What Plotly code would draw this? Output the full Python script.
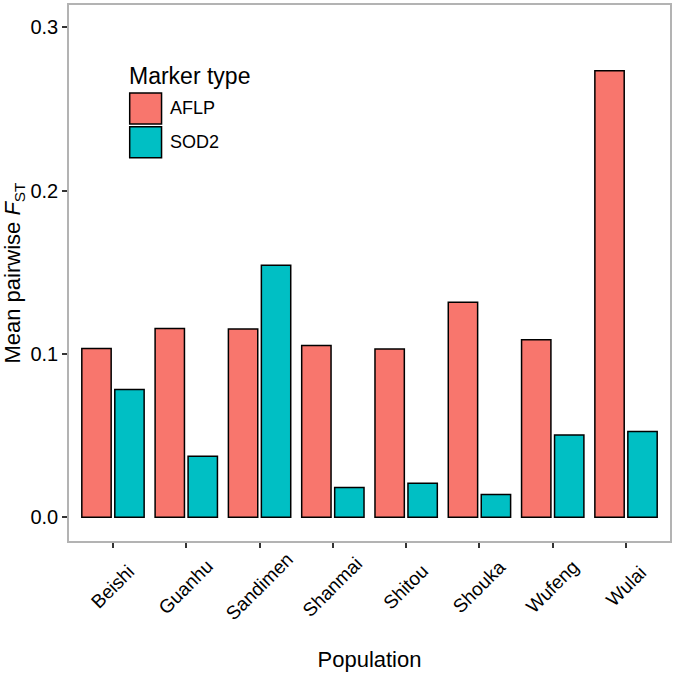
import plotly.graph_objects as go

populations = ["Beishi", "Guanhu", "Sandimen", "Shanmai", "Shitou", "Shouka", "Wufeng", "Wulai"]
aflp = [0.1034, 0.1156, 0.1152, 0.1051, 0.1031, 0.1317, 0.1087, 0.2734]
sod2 = [0.0782, 0.0374, 0.1543, 0.0183, 0.0209, 0.0140, 0.0504, 0.0526]
marker_types = ["AFLP", "SOD2"]
colors = {"AFLP": "#F8766D", "SOD2": "#00BFC4"}

FONT = "Liberation Sans, Arial, sans-serif"

fig = go.Figure()
for name, vals in zip(marker_types, [aflp, sod2]):
    fig.add_trace(go.Bar(
        x=populations, y=vals, name=name,
        marker=dict(color=colors[name], line=dict(color="black", width=1.5)),
        showlegend=False,
    ))

# x tick labels: rotated 45 deg and centred on the tick, like ggplot's angle=45
for p in populations:
    fig.add_annotation(text=p, x=p, xref="x", y=-0.0855, yref="paper", showarrow=False,
                       textangle=-45, xanchor="center", yanchor="middle",
                       font=dict(family=FONT, size=19, color="black"))

# legend drawn by hand so the keys are as big as ggplot's
key_x0, key_x1 = 0.101, 0.154
key_tops = [0.836, 0.773]
key_h = 0.058
for name, top in zip(marker_types, key_tops):
    fig.add_shape(type="rect", xref="paper", yref="paper",
                  x0=key_x0, x1=key_x1, y0=top - key_h, y1=top,
                  fillcolor=colors[name], line=dict(color="black", width=1.5))
    fig.add_annotation(text=name, xref="paper", yref="paper", showarrow=False,
                       x=key_x1 + 0.01, y=top - key_h / 2, xanchor="left", yanchor="middle",
                       font=dict(family=FONT, size=18, color="black"))
fig.add_annotation(text="Marker type", xref="paper", yref="paper", showarrow=False,
                   x=key_x0 - 0.004, y=0.868, xanchor="left", yanchor="middle",
                   font=dict(family=FONT, size=23, color="black"))

fig.update_layout(
    width=675, height=680,
    margin=dict(l=69, r=3, t=3, b=139),
    plot_bgcolor="white", paper_bgcolor="white",
    barmode="group", bargap=0.1, bargroupgap=0.11,
    font=dict(family=FONT, color="black"),
    xaxis=dict(
        title=dict(text="Population", font=dict(size=22), standoff=105),
        range=[-0.6, 7.6], showticklabels=False,
        ticks="outside", ticklen=5, tickcolor="#333333", tickwidth=1.5,
        showline=True, linecolor="#b3b3b3", linewidth=1.5, mirror=True, showgrid=False,
    ),
    yaxis=dict(
        title=dict(text="Mean pairwise <i>F</i><sub>ST</sub>", font=dict(size=22), standoff=8),
        range=[-0.0145, 0.3136], tickvals=[0, 0.1, 0.2, 0.3], ticktext=["0.0", "0.1", "0.2", "0.3"],
        tickfont=dict(size=20, color="black"),
        ticks="outside", ticklen=5, tickcolor="#333333", tickwidth=1.5,
        showline=True, linecolor="#b3b3b3", linewidth=1.5, mirror=True, showgrid=False, zeroline=False,
    ),
)

fig.write_html("out.html", config={"displayModeBar": False},
               post_script="document.body.style.margin='0';")
